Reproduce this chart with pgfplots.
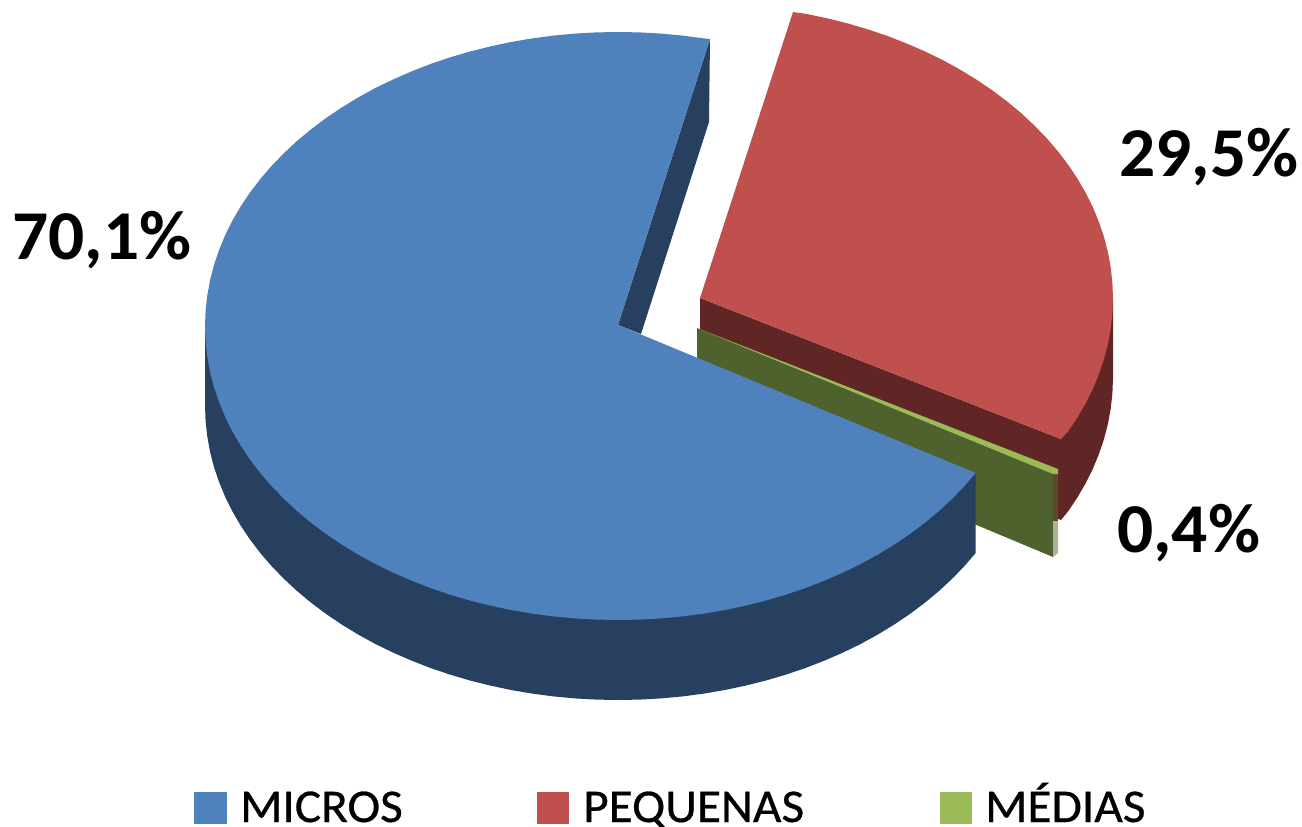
\documentclass[border=0pt]{standalone}
\usepackage{fontspec}
\setmainfont{Carlito}
\newfontfamily\labelfont[FakeStretch=1.02]{Carlito}
\newfontfamily\legendfont[FakeStretch=1.05,FakeBold=0.6]{Carlito}
\usepackage{pgfplots}
\pgfplotsset{compat=1.18}
\definecolor{blueTop}{HTML}{4F81BD}
\definecolor{blueSide}{HTML}{274060}
\definecolor{redTop}{HTML}{C0504D}
\definecolor{redSide}{HTML}{602626}
\definecolor{greenTop}{HTML}{9BBB59}
\definecolor{greenSide}{HTML}{4F612D}
\definecolor{greenEnd}{HTML}{5A4A2A}
\definecolor{greenPale}{HTML}{A8B496}
\begin{document}
\begin{tikzpicture}
\useasboundingbox (0,0) rectangle (1302pt,827pt);
\begin{axis}[
    at={(0,0)}, anchor=south west,
    width=1302pt, height=827pt,
    scale only axis,
    hide axis,
    clip=false,
    xmin=0, xmax=1302,
    ymin=0, ymax=827,
    y dir=reverse,
]

% PEQUENAS: cut face, outer wall, top
\addplot[fill=redSide,draw=none] coordinates {
    (700,298) (1061,439) (1061,520) (700,378)} --cycle;
\addplot[fill=redSide,draw=none] coordinates {
    (1113,298) (1113,378) (1112.4,393.4) (1110.7,408.7) (1107.9,424.0) (1104.0,439.1)
    (1098.9,454.1) (1092.8,468.9) (1085.6,483.4) (1077.3,497.6) (1068.0,511.5)
    (1061,520) (1061,439)} --cycle;
\addplot[fill=redTop,draw=none] coordinates {
    (700,298) (793,12) (806.9,14.0) (827.6,18.4) (848.0,23.5) (868.0,29.4) (887.5,36.0)
    (906.5,43.4) (924.9,51.4) (942.8,60.1) (959.9,69.5) (976.3,79.5) (992.0,90.1)
    (1006.9,101.3) (1021.0,113.0) (1034.1,125.2) (1046.4,137.9) (1057.7,151.0)
    (1068.0,164.5) (1077.3,178.4) (1085.6,192.6) (1092.8,207.1) (1098.9,221.9)
    (1104.0,236.9) (1107.9,252.0) (1110.7,267.3) (1112.4,282.6) (1113,298)
    (1112.4,313.4) (1110.7,328.7) (1107.9,344.0) (1104.0,359.1) (1098.9,374.1)
    (1092.8,388.9) (1085.6,403.4) (1077.3,417.6) (1068.0,431.5) (1061,439)} --cycle;

% MEDIAS: cut face, thin end, thin top
\addplot[fill=greenSide,draw=none] coordinates {
    (697,328) (1053,472) (1053,557) (697,408)} --cycle;
\addplot[fill=greenEnd,draw=none] coordinates {
    (1053,472) (1058,472) (1058,521) (1053,521)} --cycle;
\addplot[fill=greenPale,draw=none] coordinates {
    (1053,521) (1058,521) (1058,553) (1053,557)} --cycle;
\addplot[fill=greenTop,draw=none] coordinates {
    (697,328) (1058,469) (1058,474) (1053,474)} --cycle;

% MICROS: cut face, outer wall, top
\addplot[fill=blueSide,draw=none] coordinates {
    (710,39) (709,122) (641,334) (618,325)} --cycle;
\addplot[fill=blueSide,draw=none] coordinates {
    (205,326) (205,406) (205.6,421.4) (207.3,436.7) (210.1,452.0) (214.0,467.1)
    (219.1,482.1) (225.2,496.9) (232.4,511.4) (240.7,525.6) (250.0,539.5) (260.3,553.0)
    (271.6,566.1) (283.9,578.8) (297.0,591.0) (311.1,602.7) (326.0,613.9) (341.7,624.5)
    (358.1,634.5) (375.2,643.9) (393.1,652.6) (411.5,660.6) (430.5,668.0) (450.0,674.6)
    (470.0,680.5) (490.4,685.6) (511.1,690.0) (532.1,693.6) (553.4,696.4) (574.8,698.4)
    (596.4,699.6) (618,700) (639.6,699.6) (661.2,698.4) (682.6,696.4) (703.9,693.6)
    (724.9,690.0) (745.6,685.6) (766.0,680.5) (786.0,674.6) (805.5,668.0) (824.5,660.6)
    (842.9,652.6) (860.8,643.9) (877.9,634.5) (894.3,624.5) (910.0,613.9) (924.9,602.7)
    (939.0,591.0) (952.1,578.8) (964.4,566.1) (975.7,553.0) (975.7,473)} --cycle;
\addplot[fill=blueTop,draw=none] coordinates {
    (618,325) (710,39) (703.9,38.4) (682.6,35.6) (661.2,33.6) (639.6,32.4) (618,32)
    (596.4,32.4) (574.8,33.6) (553.4,35.6) (532.1,38.4) (511.1,42.0) (490.4,46.4)
    (470.0,51.5) (450.0,57.4) (430.5,64.0) (411.5,71.4) (393.1,79.5) (375.2,88.1)
    (358.1,97.5) (341.7,107.5) (326.0,118.1) (311.1,129.3) (297.0,141.0) (283.9,153.2)
    (271.6,165.9) (260.3,179.0) (250.0,192.5) (240.7,206.4) (232.4,220.6) (225.2,235.1)
    (219.1,249.9) (214.0,264.9) (210.1,280.0) (207.3,295.3) (205.6,310.6) (205,326)
    (205.6,341.4) (207.3,356.7) (210.1,372.0) (214.0,387.1) (219.1,402.1) (225.2,416.9)
    (232.4,431.4) (240.7,445.6) (250.0,459.5) (260.3,473.0) (271.6,486.1) (283.9,498.8)
    (297.0,511.0) (311.1,522.7) (326.0,533.9) (341.7,544.5) (358.1,554.5) (375.2,563.9)
    (393.1,572.6) (411.5,580.6) (430.5,588.0) (450.0,594.6) (470.0,600.5) (490.4,605.6)
    (511.1,610.0) (532.1,613.6) (553.4,616.4) (574.8,618.4) (596.4,619.6) (618,620)
    (639.6,619.6) (661.2,618.4) (682.6,616.4) (703.9,613.6) (724.9,610.0) (745.6,605.6)
    (766.0,600.5) (786.0,594.6) (805.5,588.0) (824.5,580.6) (842.9,572.6) (860.8,563.9)
    (877.9,554.5) (894.3,544.5) (910.0,533.9) (924.9,522.7) (939.0,511.0) (952.1,498.8)
    (964.4,486.1) (975.7,473.0)} --cycle;

% legend keys
\addplot[fill=blueTop,draw=none] coordinates {(194,792) (227,792) (227,824) (194,824)} --cycle;
\addplot[fill=redTop,draw=none] coordinates {(537,792) (569,792) (569,824) (537,824)} --cycle;
\addplot[fill=greenTop,draw=none] coordinates {(940,792) (972,792) (972,824) (940,824)} --cycle;

\node[anchor=base west,inner sep=0pt,font=\fontsize{70}{80}\labelfont\bfseries] at (axis cs:12,259) {70,1\%};
\node[anchor=base west,inner sep=0pt,font=\fontsize{70}{80}\labelfont\bfseries] at (axis cs:1119,176) {29,5\%};
\node[anchor=base west,inner sep=0pt,font=\fontsize{70}{80}\labelfont\bfseries] at (axis cs:1117,552) {0,4\%};
\node[anchor=base west,inner sep=0pt,font=\fontsize{47}{56}\legendfont] at (axis cs:240,822) {MICROS};
\node[anchor=base west,inner sep=0pt,font=\fontsize{47}{56}\legendfont] at (axis cs:583,822) {PEQUENAS};
\node[anchor=base west,inner sep=0pt,font=\fontsize{47}{56}\legendfont] at (axis cs:985,822) {MÉDIAS};
\end{axis}
\end{tikzpicture}
\end{document}
